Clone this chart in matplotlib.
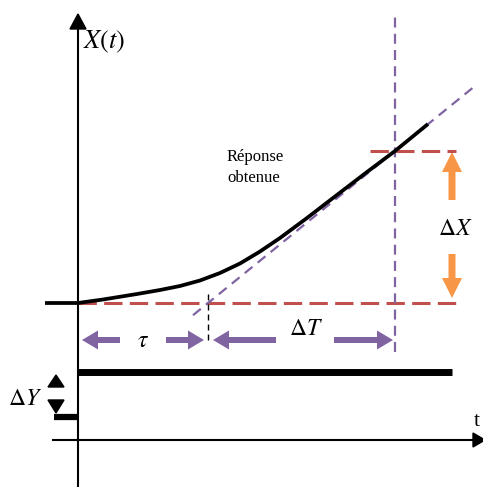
import matplotlib
matplotlib.use('Agg')
import matplotlib.pyplot as plt

plt.rcParams['mathtext.fontset'] = 'stix'

# réponse indicielle relevée (t, X)
curve_t = [-33, 0, 25, 59, 82, 102, 122, 142, 162, 182, 202, 229, 255, 289, 317, 350]
curve_x = [0, 0, 3.5, 9, 13, 17, 22.5, 30, 39.5, 51.5, 65, 85, 105, 131, 152, 179]

# grandeurs de la méthode de Broïda
tau = 130
dT = 187
dX = 152

# échelon d'entrée
u_low = -114
u_high = -69
t_end = 375
t_axis_y = -137

red = '#c0504d'
purple = '#8064a2'
orange = '#f79646'

fig = plt.figure(figsize=(4.83, 4.87), dpi=100)
ax = fig.add_axes([0, 0, 1, 1])
ax.set_xlim(-78, 405)
ax.set_ylim(-184, 303)
ax.axis('off')

# axes
ax.plot([0, 0], [-184, 275], color='black', lw=1.5)
ax.arrow(0, 270, 0, 19, width=0.1, head_width=16, head_length=15,
         length_includes_head=True, color='black')
ax.plot([-25, 396], [t_axis_y, t_axis_y], color='black', lw=1.5)
ax.arrow(390, t_axis_y, 17, 0, width=0.1, head_width=14, head_length=12,
         length_includes_head=True, color='black')
ax.text(5, 261, r'$X(t)$', fontsize=19, va='center', ha='left')
ax.text(399, -118, 't', fontsize=16, family='Liberation Serif',
        va='center', ha='center')

# lignes de construction
ax.plot([0, t_end + 3], [0, 0], color=red, lw=2.2, dashes=(6, 2.4))
ax.plot([tau + dT - 25, t_end + 3], [dX, dX], color=red, lw=2.2, dashes=(6, 2.4))
ax.plot([tau + dT, tau + dT], [-49, 290], color=purple, lw=1.6, dashes=(4.5, 2.8))
tan_t = [115, 395]
tan_x = [(t - tau) * dX / dT for t in tan_t]
ax.plot(tan_t, tan_x, color=purple, lw=1.6, dashes=(4.5, 3))
ax.plot([tau, tau], [-37, 13], color='black', lw=1.0, dashes=(4.3, 2.9))

# réponse
ax.plot(curve_t, curve_x, color='black', lw=2.7, solid_capstyle='butt',
        solid_joinstyle='round')
ax.text(149, 146, 'Réponse', fontsize=12, family='Liberation Serif',
        va='center', ha='left')
ax.text(149, 125, 'obtenue', fontsize=12, family='Liberation Serif',
        va='center', ha='left')

# échelon
ax.plot([0, t_end - 1], [u_high, u_high], color='black', lw=5, solid_capstyle='butt')
ax.plot([-24, 0], [u_low, u_low], color='black', lw=4.5, solid_capstyle='butt')
ax.fill([-30, -14, -22], [-84, -84, -72], color='black')
ax.fill([-30, -14, -22], [-97, -97, -110], color='black')
ax.text(-53, -95, r'$\Delta Y$', fontsize=17, va='center', ha='center')

# flèches tau et delta T
arrow_y = -37
kw = dict(width=6, head_width=19, head_length=16, length_includes_head=True,
          color=purple, lw=0)
ax.arrow(42, arrow_y, 4 - 42, 0, **kw)
ax.arrow(88, arrow_y, tau - 4 - 88, 0, **kw)
ax.arrow(198, arrow_y, tau + 5 - 198, 0, **kw)
ax.arrow(256, arrow_y, tau + dT - 2 - 256, 0, **kw)
ax.text(65, arrow_y, r'$\tau$', fontsize=17, va='center', ha='center')
ax.text(228, -25, r'$\Delta T$', fontsize=17, va='center', ha='center')

# flèches delta X
kw_o = dict(width=7, head_width=20, head_length=20, length_includes_head=True,
            color=orange, lw=0)
ax.arrow(t_end - 1, 103, 0, dX - 1 - 103, **kw_o)
ax.arrow(t_end - 1, 49, 0, 5 - 49, **kw_o)
ax.text(377, 75, r'$\Delta X$', fontsize=17, va='center', ha='center')

fig.savefig('out.png', dpi=100)
